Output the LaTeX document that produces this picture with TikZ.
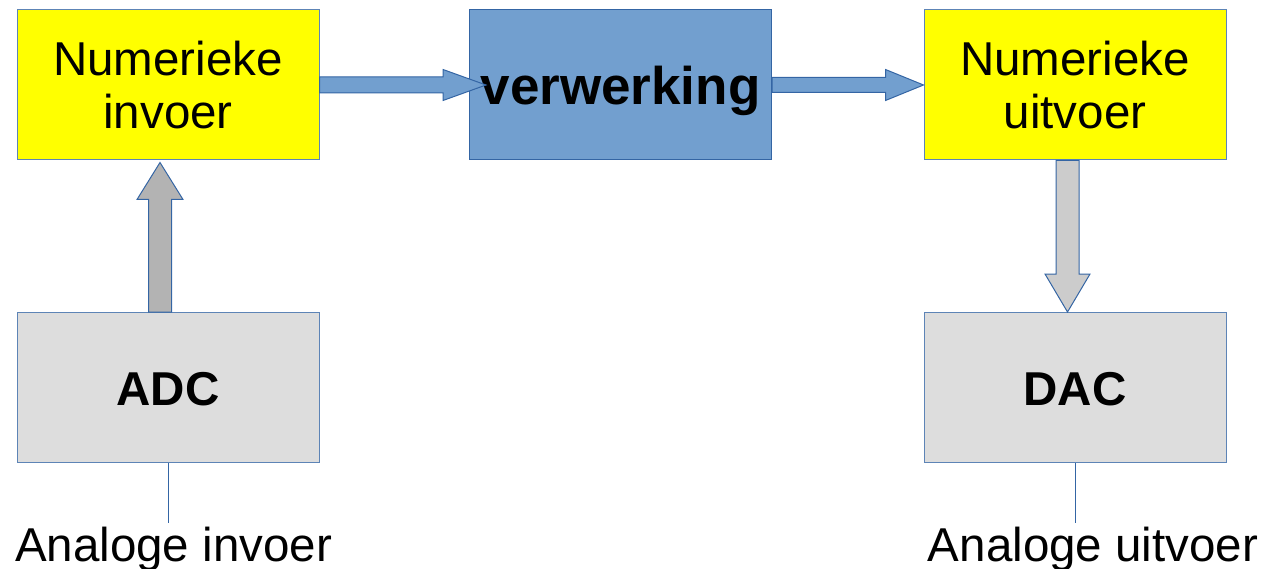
\documentclass[tikz,border=0pt]{standalone}
\usepackage{fontspec}
\setmainfont{Liberation Sans}
\usetikzlibrary{calc}
\definecolor{boxyellow}{HTML}{FFFF00}
\definecolor{procblue}{HTML}{729FCF}
\definecolor{edgeblue}{HTML}{3465A4}
\definecolor{convgray}{HTML}{DDDDDD}
\definecolor{upgray}{HTML}{B3B3B3}
\definecolor{downgray}{HTML}{CCCCCC}
\newcommand{\lowered}[2]{\raisebox{-#1}[\height][\depth]{#2}}
\begin{document}
\begin{tikzpicture}[x=1pt,y=-1pt,
  blockbox/.style={draw=edgeblue!80, line width=1pt, minimum width=302pt, minimum height=150pt,
    align=center, inner sep=0pt, font=\fontsize{47.5}{53}\selectfont},
  numbox/.style={blockbox, fill=boxyellow},
  procbox/.style={blockbox, fill=procblue, draw=edgeblue, font=\fontsize{53}{60}\selectfont\bfseries},
  convbox/.style={blockbox, fill=convgray, font=\fontsize{47.5}{53}\selectfont\bfseries},
  fatarrow/.style={draw=edgeblue, line width=1pt, line join=miter},
  lead/.style={draw=edgeblue, line width=1pt},
  caption/.style={anchor=base, inner sep=0pt, font=\fontsize{47.5}{53}\selectfont}
]
\useasboundingbox (0,0) rectangle (1265,569);

% blocks
\node[numbox]  (ni)  at (168,85)   {Numerieke\\invoer};
\node[procbox] (vw)  at (620.5,85) {\lowered{6pt}{verwerking}};
\node[numbox]  (nu)  at (1075,85)  {Numerieke\\uitvoer};
\node[convbox] (adc) at (168,387.5)  {\lowered{2pt}{ADC}};
\node[convbox] (dac) at (1075,387.5) {\lowered{2pt}{DAC}};

% horizontal block arrows
\draw[fatarrow, fill=procblue]
  ($(ni.east)+(0,-8)$) -- ($(vw.west)+(-26,-8)$) -- ($(vw.west)+(-26,-15.5)$)
  -- ($(vw.west)+(17,0)$)
  -- ($(vw.west)+(-26,15.5)$) -- ($(vw.west)+(-26,8)$) -- ($(ni.east)+(0,8)$) -- cycle;
\draw[fatarrow, fill=procblue]
  ($(vw.east)+(0,-7.5)$) -- ($(nu.west)+(-38,-7.5)$) -- ($(nu.west)+(-38,-15.5)$)
  -- (nu.west)
  -- ($(nu.west)+(-38,15.5)$) -- ($(nu.west)+(-38,7.5)$) -- ($(vw.east)+(0,7.5)$) -- cycle;

% vertical block arrows
\draw[fatarrow, fill=upgray]
  ($(adc.north)+(-19.5,0)$) -- ($(ni.south)+(-19.5,39)$) -- ($(ni.south)+(-31,39)$)
  -- ($(ni.south)+(-8,2)$)
  -- ($(ni.south)+(15,39)$) -- ($(ni.south)+(3.5,39)$) -- ($(adc.north)+(3.5,0)$) -- cycle;
\draw[fatarrow, fill=downgray]
  ($(nu.south)+(-19,0)$) -- ($(dac.north)+(-19,-38)$) -- ($(dac.north)+(-30,-38)$)
  -- ($(dac.north)+(-7.5,0)$)
  -- ($(dac.north)+(15,-38)$) -- ($(dac.north)+(4,-38)$) -- ($(nu.south)+(4,0)$) -- cycle;

% analogue leads and their labels
\coordinate (ain)  at (168,523);
\coordinate (aout) at (1075,523);
\draw[lead] (adc.south) -- (ain);
\draw[lead] (dac.south) -- (aout);
\node[caption] (lin)  at (173.5,561) {Analoge invoer};
\node[caption] (lout) at (1093,561)  {Analoge uitvoer};
\end{tikzpicture}
\end{document}
